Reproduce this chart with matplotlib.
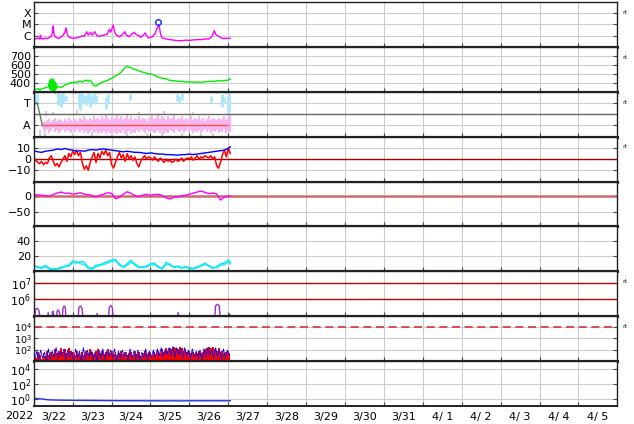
import numpy as np
import matplotlib
matplotlib.use("Agg")
import matplotlib.pyplot as plt
from matplotlib.ticker import FixedLocator, FixedFormatter, NullFormatter, NullLocator

nan = np.nan

# x axis: days since 3/22 00:00, labels sit at each day's noon
DAY_LABELS = ["3/22", "3/23", "3/24", "3/25", "3/26", "3/27", "3/28", "3/29",
              "3/30", "3/31", "4/ 1", "4/ 2", "4/ 3", "4/ 4", "4/ 5"]
YEAR = "2022"

# ── panel 1: X-ray flux (log10) ──────────────────────────────────────────────
XR_T = [0.00, 0.05, 0.10, 0.15, 0.17, 0.19, 0.25, 0.30, 0.35, 0.40,
        0.45, 0.48, 0.50, 0.52, 0.55, 0.60, 0.65, 0.70, 0.75, 0.80,
        0.83, 0.86, 0.90, 0.95, 1.00, 1.10, 1.20, 1.25, 1.30, 1.36,
        1.40, 1.46, 1.50, 1.57, 1.62, 1.70, 1.80, 1.88, 1.94, 1.98,
        2.04, 2.08, 2.12, 2.20, 2.28, 2.34, 2.38, 2.45, 2.52, 2.58,
        2.63, 2.70, 2.75, 2.82, 2.86, 2.90, 2.95, 3.05, 3.12, 3.16,
        3.22, 3.26, 3.30, 3.40, 3.50, 3.60, 3.70, 3.80, 3.90, 4.00,
        4.10, 4.20, 4.30, 4.40, 4.50, 4.58, 4.64, 4.68, 4.72, 4.78,
        4.85, 4.95, 5.05]
XR_V = [-6.25, -6.30, -6.20, -6.30, -5.95, -6.25, -6.30, -6.20, -6.28, -6.15,
        -6.05, -5.70, -5.13, -5.90, -6.10, -6.20, -6.25, -6.10, -6.00, -5.70,
        -5.30, -5.90, -6.10, -6.20, -6.22, -6.20, -6.10, -6.00, -6.05, -5.65,
        -5.95, -5.70, -5.95, -5.65, -6.00, -6.05, -5.95, -5.90, -5.45, -5.70,
        -5.05, -5.70, -5.95, -6.10, -5.90, -5.65, -5.95, -6.10, -5.85, -5.70,
        -5.90, -6.00, -6.15, -5.95, -5.75, -6.00, -6.20, -6.10, -5.80, -5.40,
        -5.05, -5.90, -6.20, -6.30, -6.35, -6.40, -6.45, -6.45, -6.40, -6.42,
        -6.38, -6.35, -6.35, -6.30, -6.30, -6.05, -5.55, -5.90, -6.00, -6.10,
        -6.25, -6.25, -6.22]
XR_FLARE_T, XR_FLARE_V = 3.20, -4.78

# ── panel 2: solar wind speed (km/s) ─────────────────────────────────────────
SW_T = [0.00, 0.05, 0.10, 0.15, 0.20, 0.25, 0.30, 0.34, 0.38, 0.40,
        0.41, 0.42, 0.43, 0.44, 0.45, 0.46, 0.47, 0.48, 0.49, 0.50,
        0.51, 0.52, 0.53, 0.54, 0.55, 0.56, 0.57, 0.58, 0.60, 0.65,
        0.70, 0.75, 0.80, 0.85, 0.90, 0.95, 1.00, 1.05, 1.10, 1.15,
        1.20, 1.25, 1.30, 1.35, 1.40, 1.45, 1.50, 1.55, 1.60, 1.65,
        1.70, 1.75, 1.80, 1.85, 1.90, 1.95, 2.00, 2.05, 2.10, 2.15,
        2.20, 2.25, 2.30, 2.35, 2.40, 2.45, 2.50, 2.55, 2.60, 2.65,
        2.70, 2.75, 2.80, 2.85, 2.90, 2.95, 3.00, 3.05, 3.10, 3.15,
        3.20, 3.30, 3.40, 3.50, 3.60, 3.70, 3.80, 3.90, 4.00, 4.10,
        4.20, 4.30, 4.40, 4.50, 4.60, 4.70, 4.80, 4.90, 5.00, 5.03,
        5.05]
SW_V = [330, 325, 335, 320, 332, 340, 345, 352, 360, 400,
        330, 430, 340, 445, 320, 440, 310, 430, 320, 445,
        315, 420, 310, 410, 320, 400, 330, 380, 350, 356,
        348, 362, 375, 388, 392, 406, 398, 412, 404, 416,
        420, 408, 426, 432, 418, 432, 398, 370, 364, 386,
        394, 408, 414, 422, 428, 442, 452, 466, 478, 492,
        503, 526, 548, 576, 590, 578, 572, 558, 556, 543,
        540, 528, 522, 518, 508, 500, 506, 494, 490, 474,
        466, 454, 446, 428, 426, 418, 420, 410, 412, 408,
        410, 406, 414, 418, 416, 424, 422, 428, 430, 446,
        440]

# ── panel 3: state chart (A = 1, T = 3) ──────────────────────────────────────
PINK_LO = [0.9, 0.6, 0.4, 0.7, 0.3, 0.5, 0.8, 0.4, 0.6, 0.3,
           0.5, 0.7, 0.4, 0.6, 0.5, 0.3, 0.6, 0.4, 0.7, 0.5,
           0.4, 0.6, 0.3, 0.5, 0.2, 0.4, 0.6, 0.3, 0.5, 0.2,
           0.4, 0.3, 0.5, 0.2, 0.4, 0.3, 0.2, 0.5, 0.3, 0.2,
           0.4, 0.3, 0.6, 0.2, 0.3, 0.5, 0.2, 0.4, 0.3, 0.6,
           0.4, 0.7, 0.5, 0.3, 0.6, 0.4, 0.8, 0.5, 0.3, 0.4,
           0.6, 0.3, 0.5, 0.2, 0.4, 0.3, 0.6, 0.5, 0.3, 0.7,
           0.5, 0.4, 0.6, 0.3, 0.5, 0.8, 0.4, 0.6, 0.3, 0.5,
           0.4, 0.6, 0.3, 0.5, 0.7, 0.4, 0.6, 0.3, 0.5, 0.4,
           0.6, 0.3, 0.5, 0.4, 0.7, 0.3, 0.5, 0.4]
PINK_HI = [1.2, 1.4, 1.3, 1.5, 1.6, 1.3, 1.5, 1.7, 1.4, 1.6,
           1.5, 1.3, 1.6, 1.4, 1.7, 1.5, 1.3, 1.6, 1.4, 1.5,
           1.7, 1.5, 1.8, 1.6, 1.4, 1.7, 1.5, 1.8, 1.6, 1.7,
           1.5, 1.8, 1.6, 1.9, 1.7, 1.5, 1.8, 1.6, 1.7, 1.9,
           1.6, 1.8, 1.5, 1.7, 1.9, 1.6, 1.8, 1.5, 1.7, 1.6,
           1.8, 1.5, 1.7, 1.6, 1.4, 1.7, 1.5, 1.8, 1.6, 1.7,
           1.9, 1.6, 1.8, 1.7, 1.5, 1.8, 1.6, 1.7, 1.9, 1.5,
           1.7, 1.6, 1.8, 1.5, 1.7, 1.4, 1.6, 1.8, 1.5, 1.7,
           1.6, 1.8, 1.5, 1.7, 1.4, 1.6, 1.8, 1.5, 1.7, 1.6,
           1.5, 1.7, 1.4, 1.6, 1.8, 1.5, 1.7, 1.9]
LBLUE_T = [0.00, 0.04, 0.08, 0.62, 0.66, 0.70, 0.76, 0.82, 1.15, 1.20,
           1.25, 1.30, 1.35, 1.40, 1.45, 1.50, 1.55, 1.60, 1.85, 1.90,
           2.47, 3.68, 3.74, 3.82, 4.55, 4.85, 4.90, 4.98, 5.03]
LBLUE_LO = [2.9, 3.0, 3.2, 2.8, 3.1, 2.6, 3.0, 3.2, 2.7, 2.4,
            3.0, 3.2, 2.8, 3.1, 2.6, 3.0, 3.2, 2.9, 2.5, 3.0,
            3.3, 3.2, 3.0, 3.3, 3.0, 2.6, 3.0, 1.9, 2.2]
LBLUE_HI = [3.9, 3.8, 3.9, 3.9, 3.7, 3.8, 3.9, 3.6, 3.9, 3.8,
            3.9, 3.7, 3.7, 3.9, 3.8, 3.6, 3.9, 3.7, 3.5, 3.8,
            3.8, 3.8, 3.6, 3.9, 3.6, 3.8, 3.5, 3.6, 3.9]
GRAY_T = [0.55, 0.65, 0.75, 0.90, 1.05, 1.30, 1.65, 2.20, 2.60, 3.00,
          3.50, 4.00, 4.40, 4.70, 4.95,
          0.15, 0.30, 1.00, 1.50, 2.00, 2.40, 2.90, 3.30, 3.80, 4.30, 4.60,
          0.32, 0.50, 1.10, 2.70, 3.35, 4.10]
GRAY_LO = [3.80, 3.75, 3.80, 3.85, 3.80, 3.85, 3.80, 3.85, 3.85, 3.80,
           3.85, 3.80, 3.85, 3.80, 3.80,
           0.0, 0.0, 0.0, 0.0, 0.0, 0.0, 0.0, 0.0, 0.0, 0.0, 0.0,
           1.8, 1.9, 1.9, 1.9, 2.0, 1.9]
GRAY_HI = [4.0, 4.0, 4.0, 4.0, 4.0, 4.0, 4.0, 4.0, 4.0, 4.0,
           4.0, 4.0, 4.0, 4.0, 4.0,
           0.6, 0.3, 0.3, 0.4, 0.3, 0.5, 0.3, 0.4, 0.3, 0.4, 0.3,
           2.3, 2.2, 2.4, 2.2, 2.3, 2.2]
STATE_BLUE_T, STATE_BLUE_V = [0.00, 0.09], [3, 3]
STATE_GREEN_T, STATE_GREEN_V = [0.09, 0.22], [3, 1]
STATE_RED_T, STATE_RED_V = [0.22, 5.00], [1, 1]

# ── panel 4: IMF Bt (blue) and Bz (red), nT ──────────────────────────────────
BT_V = [7.5, 6.5, 6.0, 7.0, 7.5, 8.0, 9.0, 8.5, 9.5, 8.5,
        8.0, 7.0, 7.5, 7.0, 8.0, 8.5, 8.0, 8.8, 9.0, 8.5,
        8.0, 7.5, 7.0, 6.5, 7.0, 6.5, 6.0, 6.0, 5.5, 5.0,
        5.5, 5.0, 4.5, 4.5, 4.0, 4.0, 3.8, 3.5, 4.0, 4.0,
        4.5, 4.0, 4.5, 5.0, 5.5, 6.0, 6.5, 7.0, 7.5, 8.0,
        9.5, 11.0]
BZ_V = [2, -1, -3, -4, -2, -5, -3, -4, 1, 3,
        -2, -6, -4, -7, -3, 0, 3, -2, 5, 2,
        7, 4, 8, 3, 6, -4, -9, -6, -10, -3,
        2, 6, -3, 5, 1, 7, 4, 8, 3, 6,
        -5, -8, -3, 2, 6, 1, 4, -2, 5, 0,
        3, -1, 2, -4, -7, -2, 1, 3, 0, 2,
        1, -1, 2, 0, -2, 1, -1, -3, 0, -2,
        -1, -3, -2, 0, -2, -1, 1, -2, 0, 1,
        0, 2, -1, 1, 3, 0, 2, 1, 3, 2,
        1, 3, 0, 2, -6, -8, -3, 4, 8, 2,
        10, 5]

# ── panel 5: Dst (nT) ────────────────────────────────────────────────────────
DST_V = [5, 4, 3, 2, 0, 5, 10, 13, 9, 10,
         6, 8, 11, 6, 5, 2, -2, 3, 6, 11,
         9, -8, -3, 6, 14, 9, 2, -2, 3, 6,
         3, 5, 6, 2, -5, -9, -4, -2, 1, 3,
         6, 10, 13, 16, 12, 8, 10, 7, -12, -2,
         0, 1]

# ── panel 6: density ─────────────────────────────────────────────────────────
DENS1_V = [7.6, 6, 5, 8, 4, 3, 4, 5, 7, 8,
           14, 11, 13, 12, 5, 4, 8, 9, 11, 13,
           15, 16, 8, 6, 10, 15, 8, 5, 6, 7,
           10, 11, 5, 4, 12, 8, 6, 7, 5, 6,
           5, 4, 6, 8, 11, 7, 4, 6, 10, 11,
           15, 12]
DENS2_V = [6, 5, 4, 6, 3, 2, 3, 4, 6, 7,
           11, 13, 10, 9, 4, 3, 6, 8, 9, 11,
           13, 14, 10, 5, 8, 12, 10, 6, 5, 6,
           8, 9, 7, 3, 9, 10, 5, 6, 4, 5,
           4, 3, 5, 7, 9, 8, 5, 5, 8, 9,
           12, 10]

# ── panel 7: electron flux (log10) ───────────────────────────────────────────
P7_T = [0.02, 0.04, 0.07, 0.11, 0.14, 0.16, nan,
        0.35, 0.37, 0.39, nan,
        0.46, 0.48, 0.50, 0.52, nan,
        0.58, 0.60, 0.63, 0.66, 0.67, nan,
        0.73, 0.75, 0.78, 0.81, 0.83, nan,
        1.14, 1.16, 1.20, 1.24, 1.27, nan,
        1.61, 1.63, 1.65, nan,
        1.92, 1.94, 1.98, 2.02, 2.04, nan,
        3.69, 3.71, 3.73, nan,
        4.65, 4.67, 4.72, 4.77, 4.79, nan,
        5.02, 5.04]
P7_V = [4.8, 5.35, 5.45, 5.42, 5.25, 4.8, nan,
        4.8, 5.2, 4.8, nan,
        4.8, 5.25, 5.28, 4.8, nan,
        4.8, 5.3, 5.35, 5.2, 4.8, nan,
        4.8, 5.45, 5.6, 5.5, 4.8, nan,
        4.8, 5.5, 5.6, 5.45, 4.8, nan,
        4.8, 5.15, 4.8, nan,
        4.8, 5.5, 5.62, 5.5, 4.8, nan,
        4.8, 5.2, 4.8, nan,
        4.8, 5.6, 5.7, 5.6, 4.8, nan,
        5.05, 5.1]

# ── panel 8: proton flux (log10) ─────────────────────────────────────────────
P8_RED = [1.6, 1.3, 1.8, 1.5, 1.2, 1.7, 1.4, 1.9, 1.5, 1.8,
          1.6, 2.0, 1.7, 1.9, 2.1, 1.8, 2.0, 1.7, 2.1, 1.9,
          1.8, 1.5, 1.9, 1.6, 1.4, 1.8, 1.5, 1.9, 1.7, 2.0,
          1.8, 1.6, 1.9, 2.0, 1.7, 1.9, 1.6, 1.8, 2.0, 1.7,
          1.9, 1.6, 1.8, 1.5, 1.7, 1.9, 1.6, 1.8, 1.5, 1.7,
          1.8, 1.5, 1.9, 1.6, 1.8, 1.4, 1.7, 1.9, 1.6, 1.8,
          1.7, 1.5, 1.8, 1.6, 1.9, 1.7, 2.0, 1.8, 2.1, 1.9,
          2.1, 2.0, 2.2, 2.1, 2.0, 2.2, 2.1, 1.9, 2.0, 1.8,
          1.9, 1.7, 1.8, 1.6, 1.7, 1.9, 1.7, 1.8, 2.0, 2.1,
          2.2, 2.1, 2.2, 2.0, 1.9, 2.1, 1.8, 1.9, 1.7, 1.8,
          1.9, 1.7]
P8_BLUE = [1.1, 1.9, 1.2, 2.0, 1.3, 1.8, 1.0, 2.1, 1.2, 1.9,
           1.4, 2.2, 1.3, 1.9, 1.5, 2.1, 1.2, 2.0, 1.4, 1.8,
           1.1, 2.1, 1.3, 1.9, 1.0, 2.2, 1.2, 2.0, 1.4, 1.9,
           1.2, 1.8, 1.1, 2.0, 1.3, 2.1, 1.2, 1.9, 1.5, 2.0,
           1.3, 2.1, 1.0, 1.9, 1.2, 2.0, 1.4, 1.8, 1.1, 2.1,
           1.3, 1.9, 1.2, 2.0, 1.1, 1.8, 1.3, 2.1, 1.2, 1.9,
           1.4, 2.0, 1.3, 2.1, 1.5, 2.2, 1.4, 2.0, 1.6, 2.2,
           1.5, 2.3, 1.4, 2.2, 1.6, 2.1, 1.3, 2.2, 1.5, 2.0,
           1.2, 2.1, 1.4, 1.9, 1.3, 2.0, 1.1, 2.1, 1.4, 2.2,
           1.5, 2.1, 1.3, 2.2, 1.4, 2.0, 1.2, 2.1, 1.3, 2.0,
           1.5]

# ── panel 9: (log10) ─────────────────────────────────────────────────────────
P9_V = [0.08, 0.06, 0.03, -0.06, -0.10, -0.12, -0.13, -0.14, -0.15, -0.15,
        -0.16, -0.17, -0.16, -0.18, -0.17, -0.18, -0.19, -0.18, -0.20, -0.19,
        -0.20, -0.20, -0.21, -0.20, -0.22, -0.21, -0.22, -0.21, -0.22, -0.23,
        -0.22, -0.23, -0.22, -0.23, -0.24, -0.23, -0.22, -0.23, -0.24, -0.23,
        -0.22, -0.23, -0.22, -0.21, -0.22, -0.23, -0.22, -0.21, -0.22, -0.23,
        -0.22, -0.21]

# sample times
T01 = np.r_[np.arange(51) * 0.1, 5.05]          # 0.1-day series
T005 = np.arange(102) * 0.05                    # 0.05-day series
T005B = 0.025 + np.arange(101) * 0.05
T_PINK = 0.20 + np.arange(98) * 0.05

GRID = "#cccccc"


def style(ax):
    ax.set_xlim(0, 15)
    ax.xaxis.set_major_locator(FixedLocator(np.arange(1, 15)))
    ax.xaxis.set_major_formatter(NullFormatter())
    ax.xaxis.set_minor_locator(FixedLocator(np.arange(15) + 0.5))
    ax.xaxis.set_minor_formatter(FixedFormatter(DAY_LABELS))
    ax.yaxis.set_minor_locator(NullLocator())
    ax.grid(True, which="major", color=GRID, lw=0.8)
    ax.set_axisbelow(True)
    ax.tick_params(which="major", direction="in", length=3, right=True,
                   labelsize=8, pad=2, color="#444444")
    ax.tick_params(axis="x", which="minor", length=0, labelsize=8, pad=4)
    for s in ("left", "right", "top"):
        ax.spines[s].set_linewidth(1.0)
        ax.spines[s].set_color("#222222")
    ax.spines["bottom"].set_linewidth(2.3)
    ax.spines["bottom"].set_color("#222222")


def rt(ax):
    ax.text(1.008, 0.77, "rt", transform=ax.transAxes, fontsize=4.5,
            ha="left", va="center", color="#222222")


fig, axes = plt.subplots(9, 1, figsize=(6.34, 4.24), dpi=100, sharex=True)
fig.subplots_adjust(left=0.0533, right=0.9737, top=0.9953, bottom=0.0425, hspace=0)
for ax in axes:
    style(ax)
a1, a2, a3, a4, a5, a6, a7, a8, a9 = axes

# 1: X-ray class
a1.plot(XR_T, XR_V, color="#ff00ff", lw=1.0)
a1.plot([XR_FLARE_T], [XR_FLARE_V], "o", mfc="none", mec="#2233ff", ms=4, mew=1.1)
a1.set_ylim(-7, -3)
a1.set_yticks([-6, -5, -4])
a1.set_yticklabels(["C", "M", "X"])
rt(a1)

# 2: solar wind speed
a2.plot(SW_T, SW_V, color="#00ee00", lw=1.0)
a2.set_ylim(300, 808)
a2.set_yticks([400, 500, 600, 700])
rt(a2)

# 3: state chart
a3.vlines(T_PINK, PINK_LO, PINK_HI, color="#f8b6f0", lw=1.6)
a3.vlines(GRAY_T, GRAY_LO, GRAY_HI, color="#d2d2d2", lw=1.6)
a3.vlines(LBLUE_T, LBLUE_LO, LBLUE_HI, color="#ace6fa", lw=2.0)
a3.axhline(2, color="#666666", lw=1.0)
a3.plot(STATE_BLUE_T, STATE_BLUE_V, color="#3355ee", lw=1.0)
a3.plot(STATE_GREEN_T, STATE_GREEN_V, color="#558855", lw=1.0)
a3.plot(STATE_RED_T, STATE_RED_V, color="#ee5555", lw=1.0)
a3.set_ylim(0, 4)
a3.set_yticks([1, 3])
a3.set_yticklabels(["A", "T"])
rt(a3)

# 4: IMF
a4.axhline(0, color="#aa0000", lw=1.0)
a4.plot(T005, BZ_V, color="#ff0000", lw=1.1)
a4.plot(T01, BT_V, color="#0000ff", lw=1.0)
a4.set_ylim(-20, 20)
a4.set_yticks([-10, 0, 10])
a4.set_yticklabels(["\u221210", "0", "10"])
rt(a4)

# 5: Dst
a5.axhline(0, color="#cc5555", lw=1.8, alpha=0.85)
a5.plot(T01, DST_V, color="#ff00ff", lw=1.0)
a5.set_ylim(-95, 46)
a5.set_yticks([-50, 0])
a5.set_yticklabels(["\u221250", "0"])

# 6: density
a6.plot(T01, DENS2_V, color="#22eeee", lw=1.0)
a6.plot(T01, DENS1_V, color="#00e5ff", lw=1.0)
a6.set_ylim(0, 60)
a6.set_yticks([20, 40])

# 7: electron flux
a7.set_yscale("log")
a7.axhline(1e6, color="#bb0000", lw=1.0)
a7.axhline(1e7, color="#bb0000", lw=1.0)
a7.plot(P7_T, 10 ** np.array(P7_V), color="#9933cc", lw=1.0)
a7.set_ylim(10 ** 4.98, 10 ** 7.68)
a7.set_yticks([1e6, 1e7])
a7.yaxis.set_minor_locator(NullLocator())
a7.grid(False, axis="y")
rt(a7)

# 8: proton flux — blue underneath, red fill on top
a8.set_yscale("log")
a8.plot(T005B, 10 ** np.array(P8_BLUE), color="#0000ff", lw=0.6)
a8.fill_between(T005, 10 ** 1.0, 10 ** (np.array(P8_RED) + 0.05),
                color="#ff0000", lw=0, step="mid")
a8.axhline(1e4, color="#dd3333", lw=1.2, ls=(0, (4.8, 2.8)))
a8.set_ylim(10 ** 1.05, 10 ** 4.9)
a8.set_yticks([1e2, 1e3, 1e4])
a8.yaxis.set_minor_locator(NullLocator())
a8.tick_params(axis="y", labelsize=6.8, pad=1.5)
rt(a8)

# 9
a9.set_yscale("log")
a9.plot(T01, 10 ** np.array(P9_V), color="#2233ee", lw=1.0)
a9.set_ylim(10 ** -0.9, 10 ** 4.97)
a9.set_yticks([1e0, 1e2, 1e4])
a9.yaxis.set_minor_locator(NullLocator())
a9.spines["bottom"].set_linewidth(1.4)

fig.text(19 / 634, 1 - 416 / 424, YEAR, ha="center", va="center", fontsize=8)

fig.savefig("out.png", dpi=100)
